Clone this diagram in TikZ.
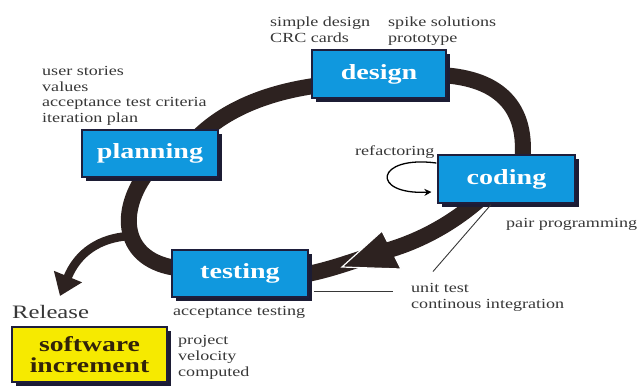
\documentclass[tikz,border=0pt]{standalone}
\usepackage{fontspec}
\setmainfont{Liberation Serif}[FakeStretch=1.3]
\usetikzlibrary{calc,shadows,backgrounds,arrows.meta}
\definecolor{boxblue}{RGB}{16,152,222}
\definecolor{boxedge}{RGB}{30,30,60}
\definecolor{shadowc}{RGB}{28,28,52}
\definecolor{bandc}{RGB}{45,34,32}
\definecolor{notec}{RGB}{55,55,55}
\definecolor{incyellow}{RGB}{246,234,0}
\definecolor{inctext}{RGB}{50,35,10}
\begin{document}
\begin{tikzpicture}[x=1pt,y=-1pt,
 phase/.style={fill=boxblue, draw=boxedge, line width=1.2pt, minimum width=136pt, minimum height=47pt, inner sep=0pt, text=white, font=\fontsize{21.6}{21.6}\selectfont\bfseries, drop shadow={shadow xshift=4pt, shadow yshift=-4pt, fill=shadowc, opacity=1}},
 note/.style={text=notec, inner sep=0pt, font=\fontsize{13.9}{15.6}\selectfont, align=left},
 band/.style={draw=bandc, line width=16pt},
 thinline/.style={draw=notec, line width=0.9pt}]
\useasboundingbox (0,0) rectangle (638,386);

\node[phase] (planning) at (150,153.5) {planning};
\node[phase, minimum width=134pt, minimum height=48pt] (design) at (379,74) {design};
\node[phase, minimum width=137pt, minimum height=48pt] (coding) at (506.5,179) {coding};
\node[phase] (testing) at (240,273.5) {testing};
\node[fill=incyellow, draw=boxedge, line width=1.5pt, minimum width=155pt, minimum height=55pt, inner sep=0pt, align=center, font=\fontsize{21.3}{21}\selectfont\bfseries, text=inctext, drop shadow={shadow xshift=4pt, shadow yshift=-4pt, fill=shadowc, opacity=1}] (increment) at (89.5,354.5) {software\\increment};

\node[note, anchor=north west] (plannotes) at (42,66) {user stories\\values\\acceptance test criteria\\iteration plan};
\node[note, anchor=north west] (designnotesa) at (270,17) {simple design\\CRC cards};
\node[note, anchor=north west] (designnotesb) at (388,17) {spike solutions\\prototype};
\node[note, anchor=base west] (refactor) at (355,155) {refactoring};
\node[note, anchor=base west] (pair) at (506,227) {pair programming};
\node[note, anchor=north west] (unittest) at (411,283) {unit test\\continous integration};
\node[note, anchor=base west] (acctest) at (173,315) {acceptance testing};
\node[note, anchor=base west, font=\fontsize{19}{19}\selectfont] (release) at (12,318) {Release};
\node[note, anchor=north west] (velocity) at (178,335.5) {project\\velocity\\computed};

\begin{pgfonlayer}{background}
 \coordinate (fork) at (129,236);
 \coordinate (reltip) at (60,296);
 \draw[draw=bandc, line width=8.5pt, -{Triangle[length=21pt,width=29pt]}] (fork) .. controls (100,238) and (78,252) .. (reltip);
 \draw[band] ($(planning)+(40,-8)$) .. controls (220,110) and (270,90) .. ($(design)+(-49,10)$);
 \draw[band] ($(design)+(61,1)$) .. controls (502,78) and (531,110) .. ($(coding)+(14.5,-9)$);
 \draw[band] ($(testing)+(-60,-5)$) .. controls (120,262) and (117,210) .. ($(planning)+(-1,16.5)$);
 \coordinate (abase) at (378,253);
 \draw[band] (abase) .. controls (350,262) and (330,270) .. ($(testing)+(60,2)$);
 \coordinate (atip) at (342,267);
 \coordinate (atop) at (382,231);
 \coordinate (abot) at (401,269);
 \filldraw[fill=bandc, draw=white, line width=1.2pt] (atip) -- (atop) -- (abot) -- cycle;
 \draw[band] ($(coding)+(-14.5,9)$) .. controls (468,212) and (430,240) .. (abase);
\end{pgfonlayer}

\draw[thinline] ($(coding.south)+(-15.5,1)$) -- ($(unittest.north west)+(22,-11.5)$);
\draw[thinline] ($(testing.east)+(5,17.5)$) -- ($(unittest.north west)+(-18,8)$);
\draw[line width=1.3pt, -{Stealth[length=7pt,width=7pt]}] ($(coding.west)+(-1,-16)$) .. controls (375,155) and (370,195) .. ($(coding.west)+(-6,13)$);
\end{tikzpicture}
\end{document}
